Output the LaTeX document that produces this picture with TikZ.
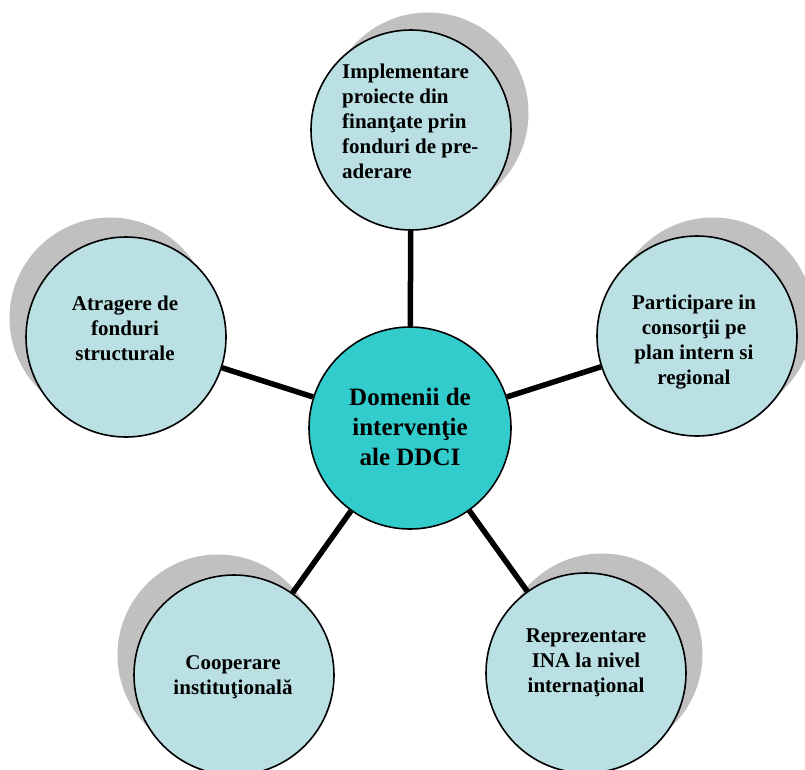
\documentclass[tikz,border=0pt]{standalone}
\usepackage{fontspec}
\setmainfont{Liberation Serif}
\definecolor{lightcyan}{RGB}{186,224,227}
\definecolor{hubcyan}{RGB}{51,204,204}
\definecolor{shadegray}{RGB}{192,192,192}
\begin{document}
\begin{tikzpicture}[x=1pt,y=-1pt,
  bub/.style={circle,draw=black,line width=1.6pt,fill=lightcyan,minimum size=200pt,inner sep=0pt},
  hub/.style={bub,fill=hubcyan,minimum size=202pt},
  shad/.style={circle,fill=shadegray,minimum size=201pt,inner sep=0pt},
  txt/.style={font=\bfseries\fontsize{21}{25}\selectfont,align=center,inner sep=0pt},
  hubtxt/.style={font=\bfseries\fontsize{25}{30}\selectfont,align=center,inner sep=0pt},
  link/.style={line width=5.5pt}]
\useasboundingbox (0,0) rectangle (805,769);
\clip (0,0) rectangle (805,769);
% shadows
\node[shad] (sT)  at (428,113) {};
\node[shad] (sL)  at (110,318) {};
\node[shad] (sR)  at (713,318) {};
\node[shad] (sBL) at (218,655) {};
\node[shad] (sBR) at (602,654) {};
% circles
\node[bub] (T)  at (411,130) {};
\node[bub] (L)  at (126,337) {};
\node[bub] (R)  at (697,336) {};
\node[bub] (BL) at (234,675) {};
\node[bub] (BR) at (586,673) {};
\node[hub] (C)  at (410,428) {};
% connectors
\draw[link] (C) -- (T);
\draw[link] (C) -- (L);
\draw[link] (C) -- (R);
\draw[link] (C) -- (BL);
\draw[link] (C) -- (BR);
% texts
\node[txt,align=left,anchor=north west] (tT) at (342,64) {Implementare\\proiecte din\\finanţate prin\\fonduri de pre-\\aderare};
\node[txt] (tL)  at (125,328) {Atragere de\\fonduri\\structurale};
\node[txt] (tR)  at (694,342) {Participare in\\consorţii pe\\plan intern si\\regional};
\node[txt] (tBL) at (233,677) {Cooperare\\instituţională};
\node[txt] (tBR) at (586,663) {Reprezentare\\INA la nivel\\internaţional};
\node[hubtxt] (tC) at (410,427) {Domenii de\\intervenţie\\ale DDCI};
\end{tikzpicture}
\end{document}
